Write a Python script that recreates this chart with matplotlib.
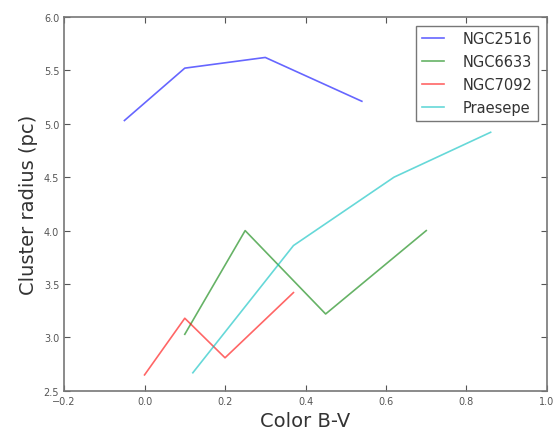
import matplotlib
matplotlib.use("Agg")
import matplotlib.pyplot as plt

# Dados
ngc2516_x = [-0.05, 0.10, 0.30, 0.54]
ngc2516_y = [5.03, 5.52, 5.62, 5.21]

ngc6633_x = [0.10, 0.25, 0.45, 0.70]
ngc6633_y = [3.03, 4.00, 3.22, 4.00]

ngc7092_x = [0.00, 0.10, 0.20, 0.37]
ngc7092_y = [2.65, 3.18, 2.81, 3.42]

praesepe_x = [0.12, 0.37, 0.62, 0.86]
praesepe_y = [2.67, 3.86, 4.50, 4.92]

fig = plt.figure(figsize=(5.57, 4.35), dpi=100)
ax = fig.add_axes([0.115, 0.099, 0.867, 0.860])

ax.plot(ngc2516_x, ngc2516_y, color="blue", alpha=0.6, lw=1.2, label="NGC2516")
ax.plot(ngc6633_x, ngc6633_y, color="green", alpha=0.6, lw=1.2, label="NGC6633")
ax.plot(ngc7092_x, ngc7092_y, color="red", alpha=0.6, lw=1.2, label="NGC7092")
ax.plot(praesepe_x, praesepe_y, color="c", alpha=0.6, lw=1.2, label="Praesepe")

ax.set_xlim(-0.2, 1.0)
ax.set_ylim(2.5, 6.0)
ax.set_xticks([-0.2, 0.0, 0.2, 0.4, 0.6, 0.8, 1.0])
ax.set_yticks([2.5, 3.0, 3.5, 4.0, 4.5, 5.0, 5.5, 6.0])
ax.tick_params(direction="in", top=True, right=True, labelsize=7, colors="#555555",
               labelcolor="#555555", length=4)
for s in ax.spines.values():
    s.set_color("#777777")
    s.set_linewidth(1.2)

ax.set_xlabel("Color B-V", fontsize=14, color="#333333")
ax.set_ylabel("Cluster radius (pc)", fontsize=14, color="#333333")

leg = ax.legend(loc="upper right", fontsize=10.5, fancybox=False, handlelength=1.5,
                handletextpad=1.3, labelspacing=0.55, borderaxespad=0.6)
leg.get_frame().set_edgecolor("#555555")
leg.get_frame().set_linewidth(1.0)
for t in leg.get_texts():
    t.set_color("#333333")

fig.savefig("out.png", dpi=100)
